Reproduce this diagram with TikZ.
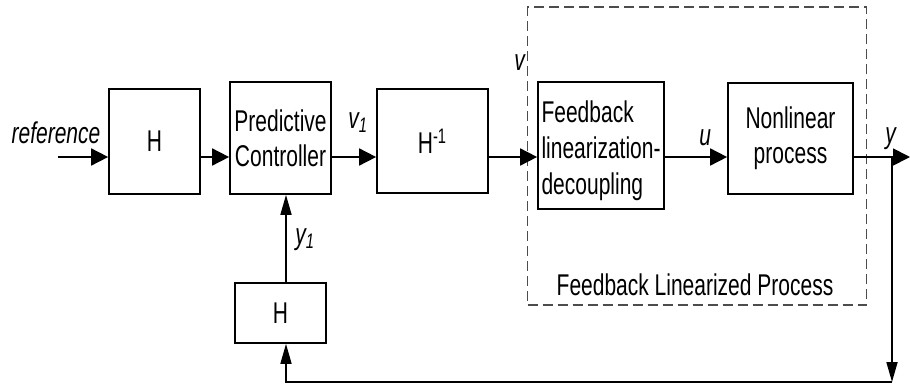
\documentclass[tikz,border=0pt]{standalone}
\usepackage{fontspec}
\setmainfont[FakeStretch=0.7]{Liberation Sans}
\usetikzlibrary{arrows.meta}
\tikzstyle{box} = [rectangle, draw=black, line width=0.85pt, text centered, align=center, inner sep=2pt]
\tikzstyle{arrow} = [line width=0.85pt, -{Triangle[length=8.5pt, width=8.5pt]}]
\tikzstyle{varrow} = [line width=0.85pt, -{Triangle[length=10pt, width=5.5pt]}]
\tikzstyle{dashbox} = [rectangle, draw=black!70, line width=0.85pt, dash pattern=on 5pt off 2.5pt]
\tikzstyle{sig} = [inner sep=0pt, font=\fontsize{15}{17.5}\selectfont\itshape]

\begin{document}
\begin{tikzpicture}[x=0.5pt, y=-0.5pt, font=\fontsize{15}{17.5}\selectfont]
    \useasboundingbox (0,0) rectangle (910,386);

        % Nodes
        \node (h1) [box, minimum width=45.5pt, minimum height=52.5pt] at (154.5,141.5) {H};
        \node (pc) [box, minimum width=50.5pt, minimum height=56pt] at (280.5,138) {Predictive\\Controller};
        \node (hinv) [box, minimum width=55.5pt, minimum height=52pt] at (432.5,141) {H\textsuperscript{-1}};
        \node (fl) [box, minimum width=63pt, minimum height=63.5pt] at (601,145.5) {};
        \node (fltext) [align=left, anchor=west, inner sep=0pt, font=\fontsize{15}{18}\selectfont] at ([xshift=2pt, yshift=-2.5pt]fl.west) {Feedback\\linearization-\\decoupling};
        \node (nl) [box, minimum width=62.5pt, minimum height=55.5pt] at (790.5,138.5) {Nonlinear\\process};
        \node (hlow) [box, minimum width=45.5pt, minimum height=30pt] at (280.5,313) {H};
        \node (flp) [dashbox, minimum width=169.5pt, minimum height=149pt] at (697,156) {};
        \node (flplabel) [anchor=base, inner sep=0pt] at (695,295) {Feedback Linearized Process};

        % Signals
        \coordinate (lvl) at (0,157);
        \coordinate (in) at (58,157);
        \coordinate (out) at (910,157);
        \coordinate (branch) at (892,157);
        \coordinate (corner) at (892,382);
        \node (reflabel) [sig, anchor=base] at (56,143) {reference};
        \node (v1label) [sig, anchor=base west] at (348,128) {v\textsubscript{1}};
        \node (vlabel) [sig, anchor=base west] at (514,70) {v};
        \node (ulabel) [sig, anchor=base west] at (699,145) {u};
        \node (ylabel) [sig, anchor=base west] at (885,143) {y};
        \node (y1label) [sig, anchor=base west] at (295,244) {y\textsubscript{1}};

        % Arrows
        \draw [arrow] (in) -- (h1.west |- lvl);
        \draw [arrow] (h1.east |- lvl) -- (pc.west |- lvl);
        \draw [arrow] (pc.east |- lvl) -- (hinv.west |- lvl);
        \draw [arrow] (hinv.east |- lvl) -- (fl.west |- lvl);
        \draw [arrow] (fl.east |- lvl) -- (nl.west |- lvl);
        \draw [arrow] (nl.east |- lvl) -- (out);
        \draw [varrow] (branch) -- (corner);
        \draw [varrow] (corner) -| ([xshift=2.75pt]hlow.south);
        \draw [varrow] ([xshift=2.75pt]hlow.north) -- ([xshift=2.75pt]pc.south);

        \end{tikzpicture}
\end{document}
